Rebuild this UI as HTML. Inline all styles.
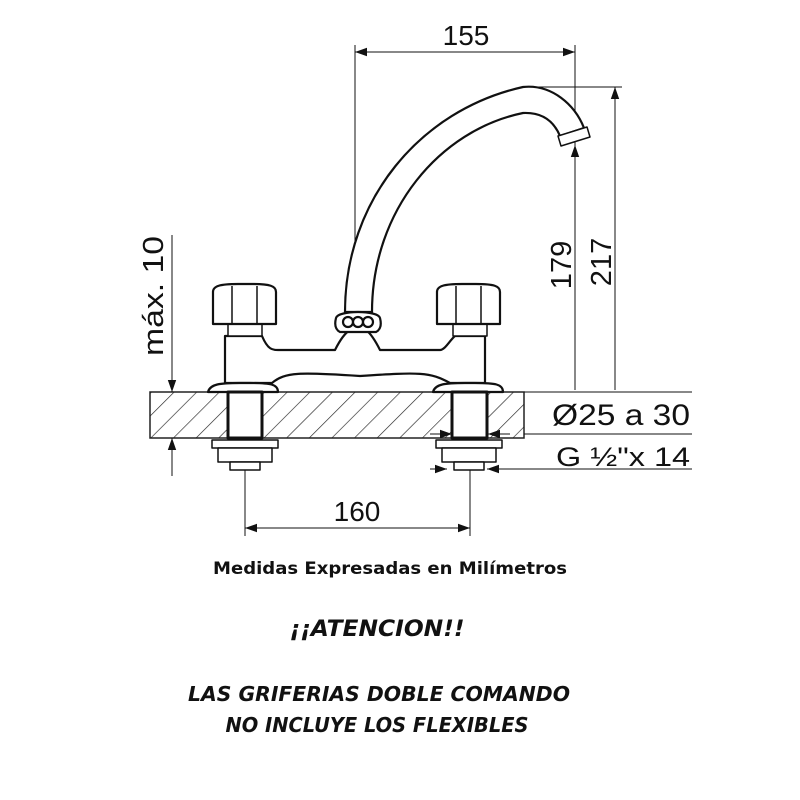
<!DOCTYPE html>
<html><head><meta charset="utf-8"><style>
html,body{margin:0;padding:0;background:#fff;width:800px;height:800px;overflow:hidden}
svg{display:block}
</style></head><body>
<svg width="800" height="800" viewBox="0 0 800 800" xmlns="http://www.w3.org/2000/svg">
<defs>
<pattern id="h" patternUnits="userSpaceOnUse" width="16" height="16" patternTransform="rotate(45)">
<line x1="0" y1="0" x2="0" y2="16" stroke="#222" stroke-width="1.3"/>
</pattern>
<marker id="a" viewBox="0 0 10 10" refX="10" refY="5" markerWidth="12" markerHeight="12" orient="auto-start-reverse" markerUnits="userSpaceOnUse">
<path d="M0,1.5 L10,5 L0,8.5 z" fill="#111"/></marker>
</defs>
<g stroke="#111" fill="none" stroke-width="1">
<rect x="150" y="392" width="374" height="46" fill="url(#h)" stroke="#222" stroke-width="1.5"/>
<line x1="355" y1="45" x2="355" y2="310"/>
<line x1="575" y1="45" x2="575" y2="145"/>
<line x1="355" y1="52" x2="575" y2="52" marker-start="url(#a)" marker-end="url(#a)"/>
<line x1="525" y1="87" x2="622" y2="87"/>
<line x1="615" y1="390" x2="615" y2="87" marker-end="url(#a)"/>
<line x1="575" y1="390" x2="575" y2="145" marker-end="url(#a)"/>
<line x1="524" y1="392" x2="692" y2="392"/>
<line x1="524" y1="434" x2="692" y2="434"/>
<line x1="495" y1="469" x2="692" y2="469"/>
<line x1="430" y1="434" x2="452" y2="434" marker-end="url(#a)"/>
<line x1="510" y1="434" x2="488" y2="434" marker-end="url(#a)"/>
<line x1="430" y1="469" x2="447" y2="469" marker-end="url(#a)"/>
<line x1="505" y1="469" x2="487" y2="469" marker-end="url(#a)"/>
<line x1="172" y1="235" x2="172" y2="392" marker-end="url(#a)"/>
<line x1="172" y1="476" x2="172" y2="438" marker-end="url(#a)"/>
<line x1="245" y1="470" x2="245" y2="536"/>
<line x1="470" y1="470" x2="470" y2="536"/>
<line x1="245" y1="528" x2="470" y2="528" marker-start="url(#a)" marker-end="url(#a)"/>
</g>
<g stroke="#111" stroke-width="2.2" fill="#fff" stroke-linejoin="round">
<path d="M345,312 C345,200 420,110 523,87 C552,84 575,105 584,128 L560,136 C555,124 545,112 523,113 C440,130 372,210 372,312 Z"/>
<path d="M558,136 L587,127 L590,137 L561,146 Z" stroke-width="1.5"/>
<path d="M225,336 L262,336 C268,350 272,350 280,350 L335,350 C340,340 345,333 350,330 L366,330 C370,333 375,340 380,350 L440,350 C445,350 450,340 455,336 L485,336 L485,383 L450,383 C430,372 420,372 360,376 C300,372 285,372 272,383 L225,383 Z"/>
<path d="M336,318 C338,310 378,310 380,318 C382,326 380,330 376,332 L340,332 C336,330 334,326 336,318 Z"/>
<ellipse cx="348" cy="322" rx="5" ry="5"/><ellipse cx="358" cy="322" rx="5" ry="5"/><ellipse cx="368" cy="322" rx="5" ry="5"/>
<rect x="228" y="324" width="34" height="12" stroke-width="1.5"/>
<rect x="453" y="324" width="34" height="12" stroke-width="1.5"/>
<path d="M213,292 C213,286 220,284 238,284 L252,284 C270,284 276,286 276,292 L276,324 L213,324 Z"/>
<line x1="232" y1="286" x2="232" y2="324" stroke-width="1.5"/><line x1="257" y1="286" x2="257" y2="324" stroke-width="1.5"/>
<path d="M437,292 C437,286 444,284 462,284 L476,284 C494,284 500,286 500,292 L500,324 L437,324 Z"/>
<line x1="456" y1="286" x2="456" y2="324" stroke-width="1.5"/><line x1="481" y1="286" x2="481" y2="324" stroke-width="1.5"/>
<path d="M208,392 C210,384 220,383 240,383 L250,383 C270,383 278,384 278,392 Z"/>
<path d="M433,392 C435,384 445,383 465,383 L475,383 C495,383 503,384 503,392 Z"/>
<rect x="228" y="392" width="34" height="46" stroke-width="3"/>
<rect x="452" y="392" width="35" height="46" stroke-width="3"/>
<rect x="212" y="440" width="66" height="8" stroke-width="1.5"/>
<rect x="218" y="448" width="54" height="14" stroke-width="1.5"/>
<rect x="230" y="462" width="30" height="8" stroke-width="1.5"/>
<rect x="436" y="440" width="66" height="8" stroke-width="1.5"/>
<rect x="442" y="448" width="54" height="14" stroke-width="1.5"/>
<rect x="454" y="462" width="30" height="8" stroke-width="1.5"/>
</g>
<g font-family="'Liberation Sans',sans-serif" fill="#111">
<text x="466" y="45" font-size="28" text-anchor="middle">155</text>
<text x="357" y="521" font-size="28" text-anchor="middle">160</text>
<text x="552" y="425" font-size="30" textLength="138" lengthAdjust="spacingAndGlyphs">Ø25 a 30</text>
<text x="556" y="466" font-size="27" textLength="134" lengthAdjust="spacingAndGlyphs">G ½"x 14</text>
<text transform="translate(571,265) rotate(-90)" font-size="29" text-anchor="middle">179</text>
<text transform="translate(611,262) rotate(-90)" font-size="29" text-anchor="middle">217</text>
<text transform="translate(163,296) rotate(-90)" font-size="29" text-anchor="middle" textLength="120" lengthAdjust="spacingAndGlyphs">máx. 10</text>
</g>
<g font-family="'DejaVu Sans','Liberation Sans',sans-serif" font-weight="bold" fill="#111" text-anchor="middle">
<text x="390" y="574" font-size="17" textLength="354" lengthAdjust="spacingAndGlyphs">Medidas Expresadas en Milímetros</text>
<text x="377" y="636" font-size="22" font-style="italic" textLength="175" lengthAdjust="spacingAndGlyphs">¡¡ATENCION!!</text>
<text x="379" y="701" font-size="20" font-style="italic" textLength="382" lengthAdjust="spacingAndGlyphs">LAS GRIFERIAS DOBLE COMANDO</text>
<text x="377" y="732" font-size="20" font-style="italic" textLength="303" lengthAdjust="spacingAndGlyphs">NO INCLUYE LOS FLEXIBLES</text>
</g>
</svg>
</body></html>
